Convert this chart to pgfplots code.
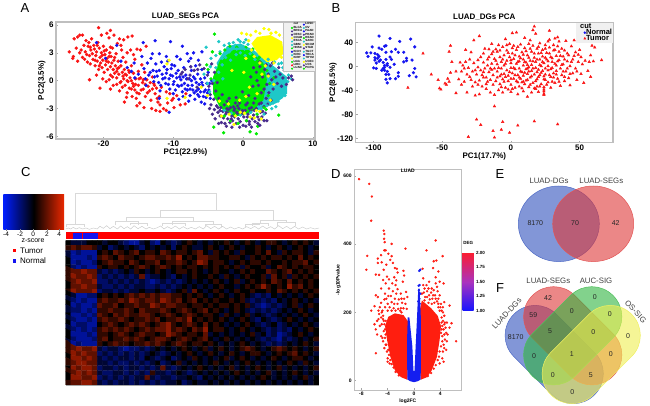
\documentclass[border=0pt]{standalone}
\usepackage{fontspec}
\setmainfont{Liberation Sans}
\usepackage{pgfplots}
\pgfplotsset{compat=1.18}
\definecolor{ared}{RGB}{250,20,20}
\definecolor{ablue}{RGB}{20,20,240}
\definecolor{apurple}{RGB}{72,44,140}
\definecolor{acyan}{RGB}{30,200,200}
\definecolor{agreen}{RGB}{0,235,0}
\definecolor{ayellow}{RGB}{255,255,0}
\definecolor{fr}{RGB}{222,55,55}
\definecolor{fb}{RGB}{47,80,188}
\definecolor{fg}{RGB}{47,180,63}
\definecolor{fy}{RGB}{238,238,80}
\newcommand{\fs}[1]{\fontsize{#1}{#1}\selectfont}
\pgfplotsset{
  pca/.style={scale only axis,anchor=north west,tick pos=left,
    axis line style={draw=gray!50,line width=1.1pt},
    tick style={draw=gray!70,line width=0.5pt},major tick length=2pt,
    /pgf/number format/assume math mode=true,
    tick label style={font=\bfseries\fs{8}},
    xticklabel style={yshift=1.5pt},yticklabel style={xshift=1pt},
    title style={font=\bfseries\fs{8},yshift=-7pt}},
  dot/.style={only marks,mark=*,mark size=#1,forget plot},
  dot/.default=1.5pt
}
\newcommand{\leg}[2]{\addlegendimage{only marks,mark=*,mark size=0.8pt,color=#1}\addlegendentry{#2}}
\begin{document}
\begin{tikzpicture}[x=1pt,y=-1pt]
\path[use as bounding box] (0,0) rectangle (650,406);
\begin{axis}[pca,at={(56pt,-22pt)},width=259pt,height=117pt,
  xmin=-26.8,xmax=10.3,ymin=-6.27,ymax=6.31,
  xtick={-20,-10,0,10},ytick={-6,-3,0,3,6},
  title={LUAD\_SEGs PCA},xlabel={PC1(22.9\%)},ylabel={PC2(3.5\%)},
  every axis x label/.style={at={(axis description cs:0.5,0)},anchor=north,yshift=-6.5pt,font=\bfseries\fs{8}},
  every axis y label/.style={at={(axis description cs:0,0.5)},anchor=south,rotate=90,yshift=7pt,font=\bfseries\fs{8}},
  legend columns=2,legend cell align=left,
  legend style={at={(1,1)},anchor=north east,draw=gray!50,fill=gray!12,
    font=\bfseries\fs{3},inner sep=0.4pt,row sep=-0.6pt,column sep=0.5pt,
    nodes={inner sep=0.2pt}}]
\addlegendimage{empty legend}\addlegendentry{cut}
\leg{ablue}{LUSC}
\leg{agreen}{BLCA}\leg{acyan}{OV}
\leg{apurple}{BRCA}\leg{ablue}{PAAD}
\leg{apurple}{CESC}\leg{apurple}{PRAD}
\leg{ayellow}{COAD}\leg{agreen}{READ}
\leg{acyan}{ESCA}\leg{acyan}{SARC}
\leg{acyan}{GBM}\leg{ayellow}{SKCM}
\leg{agreen}{HNSC}\leg{apurple}{STAD}
\leg{ablue}{KICH}\leg{acyan}{TGCT}
\leg{acyan}{KIRC}\leg{ablue}{THCA}
\leg{ayellow}{KIRP}\leg{acyan}{THYM}
\leg{agreen}{LGG}\leg{ayellow}{UCEC}
\leg{ared}{LIHC}\leg{apurple}{UCS}
\leg{agreen}{LUAD}\leg{agreen}{PCPG}
% red
\addplot[dot,color=ared] coordinates {(-24.9,3.1)(-24.4,2.4)(-24.3,2.6)(-24.2,4.5)(-23.9,3.5)(-23.7,2.1)(-23.7,4.7)(-23.4,4.9)(-23,4.9)(-23.2,3.3)(-23,2.5)(-22.8,3.8)(-22.6,3.1)(-22.5,4.3)(-22.3,2)(-22.2,3.7)(-22.1,4.1)(-22,2.7)(-21.9,1.8)(-21.8,3.3)(-21.7,4.5)(-21.6,2.9)(-21.5,2.3)(-21.4,3.8)(-21.3,3.4)(-21.2,1.6)(-21.1,2.7)(-21,3.1)(-20.9,2.1)(-20.8,4.1)(-20.7,5.7)(-20.7,1.2)(-20.6,3.5)(-20.5,2.5)(-20.4,1.9)(-20.3,4.9)(-20.3,3)(-20.2,1.4)(-20.1,2.2)(-20,3.7)(-19.9,0.9)(-19.8,2.8)(-19.7,1.7)(-19.6,3.3)(-19.5,5.1)(-19.5,2.4)(-19.4,1.2)(-19.3,2)(-19.2,4.6)(-19.1,3)(-19,1.5)(-19,0.6)(-18.9,2.6)(-18.8,1.9)(-18.7,3.5)(-18.6,1.2)(-18.5,4.9)(-18.5,2.2)(-18.4,0.8)(-18.3,1.6)(-18.2,2.9)(-18.1,0.3)(-18,4)(-18,1.3)(-17.9,2.1)(-17.8,0.7)(-17.7,4.5)(-17.6,-0.2)(-17.5,1.6)(-17.4,3.3)(-17.3,0.9)(-17.2,2.5)(-17.1,4.4)(-17.1,0.2)(-17,1.2)(-16.9,-0.5)(-16.8,2)(-16.7,0.6)(-16.6,3)(-16.5,4.7)(-16.5,-0.1)(-16.4,1.1)(-16.3,-0.8)(-16.2,0.3)(-16,1.6)(-15.9,4.8)(-15.8,-0.3)(-15.7,0.8)(-15.5,2.3)(-15.5,-1)(-15.4,0.2)(-15.3,-1.9)(-15.2,3.4)(-15,1)(-15,-0.5)(-14.9,-1.4)(-14.8,-2.4)(-14.7,0.3)(-14.5,1.7)(-14.4,-0.2)(-14.3,-0.9)(-14.1,0.9)(-14,-1.7)(-13.9,3.7)(-13.8,0.1)(-13.6,-0.6)(-13.4,-1.1)(-13.2,-2.1)(-13.1,-3)(-13,0.4)(-12.8,-0.3)(-12.6,-1.4)(-12.4,-0.8)(-12.2,-2.3)(-12,-1.7)(-11.7,-0.7)(-11.4,-3)(-11,-3.2)(-11,-1.2)(-10.5,-1.4)(-10.2,-2.1)(-9.9,-2.9)(-9.5,-1.6)(-9,-2.6)(-8.3,-2.5)(-8.2,-1.4)(-22,0.1)(-20.5,-0.8)(-19,-0.9)(-19.6,-0.1)(-18.6,-0.5)(-17.7,-1.1)(-17,-2.3)(-16.6,-1.3)(-15.9,-1.7)(-21,0.6)(-20.1,0.2)(-19.2,0.1)(-18.1,-0.4)(-17.3,-0.7)(-16,-0.9)(-22.4,2.8)(-21.9,3.6)(-21.2,2.2)(-20.9,3.8)(-20.6,1.6)(-20.2,2.7)(-19.9,3.2)(-19.6,2.1)(-19.2,2.6)(-19,3.6)(-18.7,0.4)(-18.4,2.5)(-18.1,1)(-17.8,1.4)(-17.5,-0.1)(-17.2,0.5)(-16.9,0.7)(-16.6,0)(-16.3,0.9)(-16,0)(-15.7,-0.6)(-15.4,-0.4)(-15.2,-1.3)(-14.9,0.2)(-14.6,-1)(-14.3,0.1)(-14,-0.4)(-13.7,-1.3)(-13.3,-0.2)(-13,-0.9)(-12.7,-0.5)(-12.3,-1.9)(-11.9,-2.6)(-10.8,-2.4)(-10,-1.9)(-23.4,3)(-22.7,2.3)(-19,5.4)(-17.5,3.8)(-16.1,3.3)(-15.7,2.8)(-14.7,3.3)(-16.7,-1.8)(-15.2,-2.7)(-14.2,-2.9)(-12.5,-3.2)(-11.9,-3.3)};
% blue
\addplot[dot,color=ablue] coordinates {(-21,4.1)(-18.1,3.8)(-14.3,4.1)(-12.6,4.3)(-10.4,4.2)(-8.7,3.7)(-7.1,3)(-5.9,3.1)(-12,2.9)(-19.7,2.4)(-17.5,2.1)(-16.6,1.4)(-15.6,1.9)(-15,0.7)(-14.5,2.6)(-14.2,1.3)(-13.7,1.9)(-13.5,0.6)(-13.2,2.4)(-12.9,1.1)(-12.8,-0.1)(-12.5,1.8)(-12.3,0.5)(-12,1.1)(-11.8,-0.5)(-11.7,2)(-11.5,0.2)(-11.3,1.5)(-11.1,-0.3)(-11,0.8)(-10.8,2.1)(-10.6,0.2)(-10.5,-0.9)(-10.3,1.3)(-10.1,0.5)(-10,-0.4)(-9.8,1.6)(-9.7,-1)(-9.5,0.3)(-9.3,1.1)(-9.2,-0.6)(-9,2.3)(-8.9,0.1)(-8.7,-1.2)(-8.5,1.4)(-8.4,-0.3)(-8.2,0.6)(-8,-1)(-7.8,2.1)(-7.7,0.2)(-7.6,-1.6)(-7.4,1.1)(-7.3,-0.5)(-7.1,0.4)(-7,-1.3)(-6.9,-2)(-6.8,1.6)(-6.7,-0.2)(-6.5,0.7)(-6.4,-0.9)(-6.3,-1.7)(-6.1,0.2)(-6,-2.3)(-5.9,1.2)(-5.8,-0.5)(-5.6,-1.2)(-5.5,0.3)(-5.3,-1.8)(-5.2,-0.3)(-5,0.9)(-4.9,-1)(-4.7,-1.9)(-4.5,0)(-11.9,-1.1)(-9.2,-2)(-8.6,-1.7)(-10.6,-3.4)(-15.5,0.3)(-14,0.2)(-16,1)(-13.9,-0.5)(-13.3,0.9)(-12.7,0.4)(-12.4,1)(-12.1,-0.2)(-11.6,0.7)(-11.2,0.3)(-10.9,1.2)(-10.7,-0.4)(-10.4,0.6)(-10.2,1.7)(-9.9,-0.1)(-9.6,0.8)(-9.4,-0.5)(-9.1,0.4)(-8.8,-0.5)(-8.6,0.4)(-8.3,-0.9)(-8.1,0.2)(-7.9,-0.5)(-7.6,-0.9)(-7.4,0)(-7.2,-1)(-6.9,0.2)(-6.7,-1.1)(-6.5,-1.5)(-6.3,-0.4)(-6.1,-1.2)(-5.9,-0.2)(-5.7,-1.7)(-5.4,-1)(-5.1,-1.3)(-4.8,-0.3)(-11,2.6)(-9.5,2.6)(-7.5,2.4)(-6.4,2.2)(-8,2.9)(-13,2.9)(-12,-1.9)(-7.8,-2.2)(-5.5,-2.5)(-10,-1.4)};
% purple under
\addplot[dot,color=apurple] coordinates {(-8.9,0.7)(-8.3,1.2)(-7.6,0.6)(-7,1.1)(-6.2,1.7)(-5.6,1.3)(-5.1,0.6)(-4.9,-0.6)(-4.7,-1.5)(-4.6,-2.6)(-4.5,1.8)(-4.4,-0.3)(-4.2,-2)(-4.1,0.9)(-4.1,-3.1)(-3.9,-1.1)(-3.8,-2.7)(-3.6,-3.4)(-3.5,-1.9)(-3.3,-3.8)(-3.2,-2.9)(-3.1,-4.5)(-2.9,-3.3)(-2.8,-4)(-2.7,-2.6)(-2.6,-4.6)(-2.5,-3.6)(-2.3,-3)(-2.2,-4.1)(-2,-3.5)(-1.9,-4.5)(-1.8,-2.9)(-1.6,-3.8)(-1.5,-4.3)(-1.3,-3.2)(-1.2,-3.9)(-1,-4.6)(-0.9,-3.4)(-0.7,-4.1)(-0.6,-3)(-0.4,-4.4)(-0.2,-3.6)(0,-4.8)(0.1,-3.9)(0.3,-3.2)(0.5,-4.3)(0.7,-3.6)(0.9,-4.7)(1.1,-3.3)(1.3,-4.1)(1.5,-3.7)(1.7,-4.4)(1.9,-3)(2.1,-3.9)(2.3,-4.2)(2.5,-3.4)(2.7,-3.9)(3,-2.8)(3.2,-3.5)(3.4,-4.3)(3.5,-2.5)(-0.8,-2.7)(-2.3,-2.2)(-1.1,-2.4)(0.4,-2.6)(-3,-1.5)(-3.7,-0.2)(-6.5,1.2)(-7.5,1.5)(-8.7,0.9)(-7.9,0.2)(-6.6,-0.7)};
% cyan
\addplot[fill=acyan,draw=none,forget plot] coordinates {(-3.8,1.9)(-2.3,3.7)(-0.4,4)(1.5,3.3)(6.3,0.4)(6.3,-1.4)(4.8,-2.4)(2,-3.2)(-1.4,-3.2)} --cycle;
\addplot[dot,color=acyan] coordinates {(-4.6,2.4)(-3.9,2.7)(-3.3,3.1)(-2.7,3.8)(-2.4,3)(-2,4)(-1.8,3.5)(-1.4,4.1)(-1.1,3.8)(-0.7,4.4)(-0.4,4.2)(0.1,4.1)(0.4,4.4)(0.7,3.9)(-5.3,3.6)(-3.5,4.2)(-3,2.4)(-5.6,0.7)(-5.1,-0.3)(-4.8,-1.2)(-4.7,1.5)(1.1,-3.4)(2.4,-3.1)(3.4,-2.7)(4.3,-2.4)(5,-2.2)(5.5,-1.8)(5.8,-1.1)(6.1,-0.6)(6.4,-0.1)(6.5,0.6)(6.2,1.1)(5.7,1.4)(5.1,1.8)(4.5,2)(6.9,0.2)(5.3,-1.6)(4.1,-3)(3,-3.6)(6,-1.6)(4.7,-2.8)(-1.7,-3.5)(-2.7,-3.2)(-0.4,-3.7)};
% green
\addplot[fill=agreen,draw=none,forget plot] coordinates {(-4.3,0.4)(-3.3,2.2)(-1.4,3.3)(0.8,3.3)(2.9,1.9)(3.4,0.1)(2.9,-2.1)(1,-3.5)(-1.4,-3.9)(-3.3,-2.9)(-4.3,-1.4)} --cycle;
\addplot[dot,color=agreen] coordinates {(-4.1,5)(-4.4,3.1)(-3.9,-1.8)(-4.6,0.2)(-5,1.2)(-3.3,2.9)(-2.6,3.3)(-1.9,3.7)(-0.9,3.6)(0.4,3.6)(1.4,3.4)(2.3,2.5)(3.4,1.1)(3.8,-0.3)(3.6,-1.6)(3,-2.9)(2,-3.6)(0.5,-4.3)(-0.7,-4.6)(-1.8,-4.3)(-2.7,-3.8)(-4.2,-5)(-2.8,-5.6)(1,-5.5)(1.9,-5.7)(2.1,-4.9)(5.1,-3.7)(3.3,-3.1)(-5.2,1.7)(4.4,0.3)};
% speckle on the core
\addplot[dot,color=acyan] coordinates {(-3,1.7)(-2.5,2.5)(-1.8,2.2)(-1,2.8)(-0.4,3)(0.3,2.7)(1,2.9)(1.7,2.3)(-3.5,0.9)(-2.9,0.2)(4.8,-1.2)(4.4,-1.7)(3.9,-2.5)(3.3,-2.3)(2.6,-3)(5.5,-0.9)(4.7,1.1)(5.5,1.9)(3.6,2.3)(-2,3.1)(-0.9,3.4)(0.2,3.4)(-3.9,1.4)(-4.2,0)(4.1,-1.1)(5.2,-0.1)};
% purple on top, right side
\addplot[dot,color=apurple] coordinates {(1.9,0.9)(2.4,1.5)(2.8,0.4)(3.1,1.2)(3.4,-0.4)(3.6,0.7)(3.9,1.6)(4.1,0.1)(4.3,-0.9)(4.5,1)(4.7,0.4)(4.9,-0.3)(5.1,1.4)(5.3,0.7)(5.5,-0.6)(5.7,0.3)(5.9,1.1)(6.2,-0.4)(6.5,0.3)(6.9,0.5)(7.1,0.1)(2.2,-0.5)(2.6,-1.3)(3,-0.9)(3.3,-1.9)(3.7,-1.3)(4,-2.1)(2,0)(1.5,1.4)(2.4,2)(3.3,1.7)(4.2,1.9)(-0.8,-3.5)(-1.7,-4.1)(-2.4,-3.4)(0.6,-3.9)(1.6,-3.2)(-3.6,-2.9)(0.9,-4.4)(2.8,-3.3)(2.1,-4.6)(-0.1,-3.2)(1.2,-2.9)(-1.4,-2.8)(2.3,-2.5)(-4.8,-3)(-4.4,-3.6)(-4,-4.1)(-3.5,-4.6)(-2.4,-4.9)(-1.6,-5)(-0.5,-5)(0.4,-4.9)(1.2,-5)(2.4,-4.8)(3,-4.3)(-1.2,-3)(-2.1,-3.1)(0,-3.3)(0.9,-3)(1.5,-2.4)(-3.3,-3.2)(-0.5,-2.4)(2.6,-2.4)(-1,-1.8)(-0.1,-1.2)(0.8,-1.6)(1.4,-0.6)(1.1,0.4)(0.6,-2.4)(1.7,-1.9)(-2,-1.9)};
% yellow
\addplot[fill=ayellow,draw=none,forget plot] coordinates {(1.2,4)(2,4.7)(3.9,4.9)(5.6,4.2)(5.8,2.9)(4.8,2.2)(3.4,2)(2.2,2.8)} --cycle;
\addplot[dot,color=ayellow] coordinates {(-0.2,5.1)(0.5,5)(1.1,4.9)(1.8,5.3)(2.4,5.1)(3,5.6)(3.7,5.5)(4,5.1)(4.7,5.2)(5.2,4.9)(5.9,4.6)(6,3.8)(6.1,3.1)(5.5,2.5)(4.4,1.9)(3.2,1.6)(2.4,1.9)(1.6,2.6)(1.2,3.3)(0.8,4.3)(2.7,3.1)(3.6,0.5)(0.4,-1.7)(-0.4,-3.4)(1,-3.9)(1.9,-3.2)(2.6,-4.1)(-1.1,-3.8)(-2.1,-2.5)(-3.4,-2.2)(-10.9,1.8)(-10.6,2.2)(-10.9,-1.9)(-8.3,-1.8)(-5.1,-1.6)(-6,-0.7)(0.4,2.4)(0.1,0.9)(2,-1.4)(-1.6,1.1)(-0.5,-2.1)(0.9,-0.7)(-2,-3.6)(-1.3,-4.7)(1.6,-4)(2.4,-3.3)(0.2,-3.5)(-3.1,-3.8)(3.9,-2.1)(4.4,-0.4)(2.7,0.7)};
\end{axis}
\begin{axis}[pca,at={(355.7pt,-22.7pt)},width=257.3pt,height=120pt,
  xmin=-113,xmax=74.3,ymin=-126.7,ymax=73.3,
  xtick={-100,-50,0,50},ytick={-120,-80,-40,0,40},
  title={LUAD\_DGs PCA},xlabel={PC1(17.7\%)},ylabel={PC2(8.5\%)},
  every axis x label/.style={at={(axis description cs:0.5,0)},anchor=north,yshift=-6.3pt,font=\bfseries\fs{8}},
  every axis y label/.style={at={(axis description cs:0,0.5)},anchor=south,rotate=90,yshift=15.5pt,font=\bfseries\fs{8}},
  legend cell align=left,
  legend style={at={(1,1)},anchor=north east,draw=none,fill=gray!12,
    font=\bfseries\fs{7.5},inner sep=0.5pt,row sep=-1.5pt,column sep=0pt,
    nodes={inner sep=0.3pt}}]
\addlegendimage{empty legend}\addlegendentry{\hspace*{-6pt}cut}
\addlegendimage{only marks,mark=*,mark size=1pt,color=ablue}\addlegendentry{Normal}
\addlegendimage{only marks,mark=triangle*,mark size=1.2pt,color=ared}\addlegendentry{Tumor}
\addplot[dot=1.4pt,color=ablue] coordinates {(-96,51)(-88,47)(-81,42)(-73,46)(-70,33)(-101,33)(-105,23)(-102,23)(-104,17)(-96,31)(-92,34)(-94,29)(-91,35)(-84,29)(-91,24)(-87,25)(-82,24)(-78,24)(-99,22)(-99,15)(-97,14)(-99,11)(-96,9)(-91,12)(-88,16)(-87,12)(-93,7)(-90,5)(-85,4)(-76,10)(-72,11)(-76,14)(-78,8)(-100,-2)(-98,-3)(-94,-6)(-92,-6)(-90,-8)(-89,-13)(-92,2)(-90,2)(-88,-1)(-82,-10)(-70,-3)(-82,-16)(-74,-15)(-69,-17)(-88,-20)(-91,-21)(-84,-20)(-90,-27)(-91,-13)(-97,20)(-95,11)(-92,-1)(-96,17)(-98,6)(-93,-3)(-71,-10)};
\addplot[dot=1.5pt,mark=triangle*,color=ared] coordinates {(-64,22)(-58,-13)(-53,-22)(-52,-36)(-51,-38)(-75,-35)(-48,-28)(-47,-30)(-45,-25)(-46,-20)(-44,-10)(-43,8)(-45,25)(-44,35)(-40,-44)(-40,-8)(-38,-21)(-37,7)(-36,-30)(-36,-8)(-35,2)(-34,-25)(-34,-3)(-33,8)(-32,-13)(-33,28)(-32,-43)(-31,-2)(-30,-17)(-29,24)(-29,-22)(-28,-33)(-28,-8)(-27,44)(-27,6)(-26,-26)(-26,-48)(-25,-13)(-24,11)(-24,-1)(-23,-23)(-23,-46)(-23,51)(-22,-6)(-21,-14)(-21,-33)(-20,22)(-20,7)(-19,-3)(-18,-18)(-18,-29)(-18,-37)(-17,12)(-17,2)(-16,-9)(-16,29)(-15,-22)(-15,-43)(-14,38)(-14,21)(-14,5)(-13,-14)(-13,-30)(-12,-3)(-12,13)(-12,-47)(-11,29)(-11,-24)(-10,25)(-10,-8)(-10,4)(-9,-39)(-9,36)(-8,-16)(-8,16)(-8,-29)(-7,-3)(-7,8)(-6,-21)(-6,33)(-6,-43)(-5,19)(-5,-12)(-5,2)(-4,-35)(-4,46)(-3,27)(-3,-6)(-3,10)(-2,-24)(-2,-38)(-2,-15)(-1,16)(-1,38)(0,-2)(0,6)(0,-30)(0,-42)(1,56)(1,22)(1,-11)(2,-20)(2,13)(2,35)(3,-4)(3,-35)(4,28)(4,57)(4,5)(5,-14)(5,-26)(5,-46)(6,17)(6,-3)(6,9)(7,-20)(7,37)(8,-9)(8,24)(8,-36)(9,2)(9,-15)(9,12)(10,48)(10,-29)(10,31)(11,-4)(11,-23)(11,7)(12,-50)(12,19)(12,-12)(13,38)(13,-34)(13,-1)(14,10)(14,-18)(15,25)(15,-7)(15,-43)(15,3)(16,35)(16,61)(16,-27)(17,15)(17,67)(17,-13)(18,-2)(18,55)(18,-37)(18,8)(19,-21)(19,30)(20,22)(20,-5)(20,-42)(21,12)(21,-14)(21,39)(22,1)(22,-29)(22,-10)(23,28)(23,17)(24,-21)(24,-34)(24,-38)(24,-41)(24,-45)(24,-47)(24,6)(25,-3)(25,36)(25,-13)(26,23)(26,12)(27,-26)(27,-6)(27,1)(28,60)(28,45)(28,32)(29,16)(29,-17)(29,-35)(30,8)(30,-2)(31,27)(31,-11)(31,36)(32,47)(32,-27)(33,18)(33,2)(33,-7)(34,-20)(34,34)(34,49)(35,11)(35,25)(36,-32)(36,-3)(37,-14)(38,17)(38,4)(39,-24)(39,27)(40,-8)(40,43)(41,9)(42,-19)(42,19)(43,1)(43,-31)(44,34)(45,12)(45,-11)(46,44)(47,-3)(47,24)(48,-22)(49,8)(50,28)(51,-12)(51,16)(52,4)(53,-27)(54,10)(56,-7)(57,8)(58,-17)(58,19)(59,35)(60,9)(61,32)(66,11)(25,-22)(12,-3)(19,-33)(6,-33)(-7,-13)(-14,-5)(-20,-18)(14,44)(9,-25)(-12,-66)(-25,-88)(-22,-97)(-13,-107)(-7,-105)(-12,-118)(-31,-117)(-6,-92)(-1,-110)(5,-98)(17,-91)(34,-96)(-30,12)(-26,-6)(-24,-30)(-22,16)(-20,-9)(-19,30)(-17,-25)(-16,16)(-15,-3)(-13,25)(-11,10)(-10,-18)(-9,-2)(-8,27)(-7,-34)(-6,12)(-5,-25)(-4,5)(-4,-17)(-3,36)(-2,23)(-1,-9)(0,11)(0,-20)(1,31)(1,-37)(2,-2)(3,19)(3,-14)(4,-24)(5,33)(5,8)(6,-18)(7,-8)(7,14)(8,-26)(9,20)(9,-41)(10,-10)(10,8)(11,26)(12,-22)(12,3)(13,15)(13,-8)(14,-30)(14,30)(15,-16)(16,9)(16,-3)(17,-36)(17,22)(18,-24)(19,12)(19,-9)(20,33)(20,-17)(21,3)(21,-33)(22,23)(23,-7)(23,8)(24,-16)(25,15)(25,30)(26,-30)(27,9)(27,42)(28,-14)(28,22)(29,-4)(30,-25)(30,14)(31,-18)(32,5)(32,28)(33,-13)(34,9)(35,-25)(35,42)(36,18)(37,3)(37,30)(38,-8)(39,-17)(39,12)(41,-3)(41,22)(43,-12)(44,8)(46,18)(48,-8)(49,20)};
\end{axis}
\begin{axis}[scale only axis,anchor=north west,at={(65.67pt,-191.67pt)},width=253.33pt,height=49pt,
  hide axis,xmin=197,xmax=957,ymin=95,ymax=242,y dir=reverse,unbounded coords=jump,clip=false]
\addplot[gray!30,line width=0.6pt] coordinates {(227,192)(227,100)(650,100)(650,150)(nan,nan)(480,172)(480,150)(820,150)(820,180)(nan,nan)(345,196)(345,185)(415,185)(415,196)(nan,nan)(380,185)(380,172)(580,172)(580,185)(nan,nan)(518,196)(518,185)(640,185)(640,196)(nan,nan)(757,197)(757,190)(805,190)(805,197)(nan,nan)(780,190)(780,180)(860,180)(860,187)(nan,nan)(833,197)(833,187)(885,187)(885,197)(nan,nan)(200,200)(200,192)(253,192)(253,200)(nan,nan)(390,196)(390,191)(442,191)(442,198)(nan,nan)(488,198)(488,189)(555,189)(555,197)(nan,nan)(615,198)(615,193)(665,193)(665,200)(nan,nan)(735,200)(735,194)(780,194)};
\addplot[gray!40,line width=0.5pt] coordinates {(197,207)(205,204)(212,207)(220,202)(228,207)(238,203)(248,207)(258,204)(268,208)(280,204)(292,207)(300,199)(310,205)(320,197)(330,206)(340,199)(352,207)(362,198)(372,206)(382,200)(392,207)(402,197)(414,206)(426,199)(438,207)(448,202)(460,207)(472,203)(482,198)(492,207)(502,200)(514,206)(526,198)(538,207)(550,200)(562,207)(574,202)(586,207)(598,200)(610,207)(620,197)(632,206)(644,199)(656,207)(668,199)(680,207)(692,201)(704,207)(716,202)(728,207)(740,200)(752,206)(764,199)(776,207)(788,198)(800,206)(812,200)(824,207)(836,197)(848,206)(860,199)(872,207)(884,199)(896,207)(908,201)(920,207)(932,203)(944,207)(957,204)};
\addplot[fill=red,draw=none] coordinates {(197,216)(957,216)(957,238)(197,238)} --cycle;
\addplot[fill=ablue,draw=none] coordinates {(219,219)(245,219)(245,237)(219,237)} --cycle;
\addplot[fill=ablue,draw=none] coordinates {(249,219)(295,219)(295,237)(249,237)} --cycle;
\addplot[gray!70,line width=0.8pt] coordinates {(197,240)(957,240)};
\end{axis}
\begin{axis}[scale only axis,anchor=north west,at={(65.67pt,-240.67pt)},width=253.33pt,height=144.3pt,
  hide axis,xmin=-0.5,xmax=47.5,ymin=-0.5,ymax=29.5,y dir=reverse,
  colormap={bkr}{rgb255=(0,30,255) rgb255=(0,0,0) rgb255=(235,40,0)},point meta min=-5,point meta max=5]
\addplot[matrix plot*,mesh/cols=48,point meta=explicit] table[header=false,row sep=\\,
  x expr={mod(\coordindex,48)},y expr={floor(\coordindex/48)},meta index=0] {
0\\-1\\-1\\-1\\0\\0\\0\\-1\\0\\0\\-1\\-2\\-3\\-3\\-1\\0\\-2\\-3\\0\\-1\\-2\\-1\\0\\1\\0\\-1\\0\\-1\\0\\0\\1\\0\\-1\\0\\1\\0\\-1\\0\\1\\1\\0\\-1\\0\\1\\0\\1\\0\\-1\\
1\\2\\1\\2\\2\\1\\-1\\0\\-2\\-1\\0\\-1\\0\\-1\\-2\\0\\-1\\0\\-1\\0\\-2\\0\\1\\0\\-1\\-1\\0\\1\\0\\-1\\0\\1\\0\\-1\\0\\0\\1\\0\\-1\\0\\1\\0\\-1\\0\\1\\0\\-1\\0\\
-1\\-3\\-2\\-3\\-3\\-3\\0\\1\\0\\2\\1\\0\\1\\2\\0\\1\\1\\0\\2\\1\\0\\1\\1\\0\\1\\2\\0\\-1\\1\\0\\1\\0\\-1\\1\\0\\0\\1\\0\\2\\0\\-1\\1\\0\\1\\1\\0\\-1\\1\\
-1\\-3\\-3\\-3\\-2\\-3\\1\\2\\1\\0\\2\\1\\1\\0\\1\\2\\2\\1\\1\\2\\1\\3\\0\\1\\0\\2\\2\\1\\1\\0\\0\\1\\1\\0\\-1\\1\\0\\1\\0\\1\\1\\0\\1\\0\\2\\0\\1\\0\\
0\\-3\\-2\\-3\\-3\\-2\\0\\1\\2\\1\\1\\0\\2\\1\\0\\1\\1\\2\\0\\1\\1\\2\\1\\0\\1\\3\\2\\0\\1\\1\\0\\-1\\0\\1\\0\\1\\1\\0\\1\\0\\0\\1\\0\\1\\1\\2\\0\\1\\
0\\-2\\-3\\-2\\-3\\-3\\1\\0\\1\\1\\0\\1\\0\\1\\2\\1\\0\\1\\2\\1\\0\\1\\0\\1\\1\\0\\1\\0\\1\\0\\1\\0\\1\\-1\\1\\0\\0\\1\\-1\\0\\2\\1\\0\\1\\0\\1\\1\\0\\
1\\2\\2\\3\\2\\2\\-1\\-2\\-1\\-2\\-1\\0\\-1\\1\\0\\-1\\0\\1\\0\\-1\\0\\1\\1\\0\\1\\0\\-1\\0\\1\\0\\0\\-1\\0\\1\\0\\1\\0\\0\\2\\1\\0\\1\\2\\0\\1\\0\\1\\0\\
1\\3\\2\\2\\3\\2\\-2\\-1\\-2\\-1\\-2\\-1\\-2\\-1\\2\\-2\\-1\\-1\\0\\-1\\-2\\0\\-1\\0\\1\\0\\0\\1\\0\\-1\\1\\0\\-1\\0\\1\\0\\0\\1\\-1\\2\\0\\1\\-1\\1\\0\\1\\0\\1\\
1\\2\\3\\2\\2\\3\\-2\\-2\\-1\\-2\\-1\\-2\\-1\\-2\\-1\\-2\\-3\\-2\\-1\\-2\\-1\\-2\\-1\\0\\-1\\0\\-1\\0\\1\\0\\-1\\0\\1\\-1\\0\\1\\0\\1\\0\\2\\1\\0\\2\\0\\1\\0\\1\\0\\
0\\2\\2\\3\\2\\2\\-1\\-2\\-2\\-1\\-2\\-1\\-2\\-1\\-1\\-2\\-2\\-1\\-2\\-1\\-2\\-1\\0\\-1\\0\\-1\\0\\-1\\0\\1\\0\\0\\-1\\0\\1\\0\\1\\3\\1\\0\\1\\0\\3\\1\\2\\0\\1\\0\\
1\\3\\2\\2\\2\\3\\-2\\-1\\-1\\-2\\-1\\-2\\-1\\-1\\0\\-1\\-1\\0\\-1\\-2\\-1\\0\\1\\-1\\2\\0\\-1\\0\\1\\0\\-1\\0\\1\\0\\0\\1\\0\\0\\1\\0\\2\\1\\0\\1\\0\\1\\0\\1\\
0\\-1\\-3\\-3\\-2\\-2\\0\\1\\0\\1\\0\\1\\2\\1\\2\\1\\2\\1\\2\\2\\1\\1\\0\\1\\0\\1\\0\\-1\\0\\1\\0\\-1\\0\\1\\0\\-1\\-2\\-1\\-2\\0\\-1\\0\\-1\\0\\-1\\0\\1\\0\\
-1\\-2\\-3\\-2\\-3\\-3\\1\\2\\1\\1\\2\\1\\3\\2\\1\\2\\2\\1\\3\\2\\1\\2\\0\\1\\2\\0\\1\\0\\1\\0\\0\\1\\0\\1\\-1\\-2\\-1\\-2\\-1\\-2\\0\\-1\\0\\1\\0\\-1\\0\\-1\\
0\\-3\\-2\\-3\\-3\\-2\\2\\1\\1\\2\\0\\1\\1\\2\\1\\1\\3\\2\\1\\2\\2\\1\\1\\0\\1\\1\\0\\1\\0\\1\\1\\0\\1\\0\\1\\-1\\-2\\-3\\-2\\-1\\-2\\-1\\0\\1\\-1\\0\\1\\0\\
-1\\-2\\-2\\-3\\-2\\-3\\1\\1\\2\\1\\1\\2\\1\\0\\2\\1\\1\\1\\2\\1\\0\\1\\2\\1\\0\\1\\2\\0\\1\\0\\-1\\0\\1\\0\\-1\\-2\\-1\\-2\\-1\\-2\\-1\\0\\-1\\0\\1\\0\\-1\\0\\
0\\-3\\-3\\-2\\-3\\-2\\2\\1\\0\\2\\1\\2\\1\\1\\2\\2\\1\\0\\1\\2\\1\\0\\1\\2\\1\\0\\1\\1\\0\\-1\\1\\0\\-1\\0\\1\\-1\\0\\-1\\-2\\-1\\0\\-1\\0\\-1\\0\\1\\0\\-1\\
-1\\-2\\-3\\-3\\-2\\-3\\1\\2\\1\\1\\2\\1\\0\\1\\1\\2\\1\\2\\0\\1\\1\\2\\1\\3\\0\\1\\0\\1\\0\\1\\0\\-1\\0\\1\\0\\-1\\-2\\0\\-1\\-2\\-1\\0\\1\\0\\-1\\0\\-1\\0\\
0\\-3\\-2\\-2\\-3\\-3\\0\\1\\2\\1\\0\\1\\2\\1\\2\\1\\0\\1\\2\\3\\1\\0\\1\\2\\1\\0\\2\\0\\1\\0\\-1\\0\\-1\\0\\1\\0\\-1\\-2\\-1\\0\\-2\\-1\\0\\-1\\0\\1\\0\\-1\\
-1\\-2\\-3\\-2\\-3\\-2\\1\\2\\1\\2\\1\\2\\1\\0\\1\\2\\1\\2\\2\\3\\1\\2\\1\\0\\2\\1\\3\\0\\1\\1\\0\\-1\\0\\1\\0\\-1\\0\\-1\\-2\\-1\\-2\\-1\\-2\\0\\-1\\0\\1\\0\\
0\\-3\\-3\\-3\\-2\\-3\\1\\1\\0\\1\\2\\1\\0\\1\\2\\1\\1\\0\\1\\3\\2\\1\\0\\1\\1\\0\\2\\-1\\0\\-1\\0\\-1\\0\\-1\\0\\1\\-1\\0\\-2\\-1\\-3\\-2\\-1\\0\\1\\0\\-1\\0\\
0\\-2\\-3\\-3\\-3\\-2\\1\\2\\0\\1\\1\\2\\1\\2\\1\\0\\1\\2\\2\\1\\0\\1\\2\\1\\0\\1\\2\\0\\-1\\0\\1\\0\\-1\\0\\-1\\0\\-1\\-2\\-1\\-2\\-3\\-1\\-2\\-1\\0\\-1\\0\\1\\
-1\\-3\\-2\\-3\\-3\\-3\\1\\0\\1\\2\\1\\1\\0\\1\\1\\2\\1\\2\\1\\0\\1\\2\\1\\0\\1\\1\\0\\1\\0\\-1\\0\\-1\\0\\1\\0\\-1\\0\\-1\\-2\\-1\\-2\\-1\\0\\-1\\0\\1\\0\\-1\\
1\\2\\3\\2\\2\\3\\-1\\-2\\-1\\-1\\-2\\-3\\-2\\-2\\-1\\-2\\-1\\0\\-1\\0\\-1\\0\\1\\0\\-1\\0\\1\\-1\\0\\1\\0\\-1\\0\\1\\2\\1\\0\\-1\\0\\1\\2\\1\\0\\1\\0\\-1\\0\\1\\
1\\3\\2\\3\\2\\2\\-2\\-1\\-2\\-1\\-2\\-1\\-2\\-1\\-2\\-1\\0\\-1\\-2\\-1\\0\\-1\\0\\1\\0\\-1\\0\\1\\0\\-1\\0\\1\\0\\-1\\0\\1\\1\\0\\-1\\0\\1\\0\\1\\2\\0\\1\\0\\-1\\
0\\3\\3\\2\\3\\2\\-1\\-2\\-1\\-2\\-1\\-1\\-2\\-1\\-2\\0\\-1\\-2\\-1\\0\\-2\\-1\\0\\-1\\1\\0\\-1\\0\\-1\\0\\1\\-1\\0\\1\\0\\-1\\0\\-1\\0\\1\\0\\-1\\0\\1\\1\\0\\-1\\0\\
1\\2\\3\\3\\2\\2\\-1\\-1\\-2\\-1\\-2\\-2\\-1\\-2\\-1\\-2\\-1\\0\\-2\\-1\\0\\1\\-1\\0\\-1\\0\\-1\\0\\1\\0\\-1\\0\\-1\\0\\1\\0\\-1\\0\\-1\\0\\-1\\0\\1\\0\\-1\\1\\0\\-1\\
0\\3\\2\\3\\3\\2\\-2\\-1\\-1\\-2\\-1\\-2\\-1\\-1\\-2\\-1\\-2\\-1\\2\\-1\\-2\\-1\\0\\-1\\0\\1\\0\\-1\\0\\-1\\0\\1\\-1\\0\\-1\\0\\1\\0\\-1\\0\\1\\-1\\0\\-1\\0\\-1\\0\\1\\
1\\2\\3\\2\\3\\2\\-1\\-2\\-2\\-1\\-1\\-2\\-1\\-2\\-1\\-2\\1\\-1\\-1\\-2\\-1\\0\\-1\\-2\\-1\\0\\-1\\0\\-1\\0\\-1\\0\\1\\0\\-1\\0\\-1\\0\\1\\-1\\0\\-1\\0\\1\\0\\-1\\0\\-1\\
0\\3\\3\\2\\2\\3\\-2\\-1\\-2\\-1\\-2\\-1\\-2\\-1\\-1\\2\\-1\\-2\\-1\\-1\\-2\\-1\\-1\\0\\-1\\-2\\0\\-1\\0\\-1\\0\\-1\\0\\-1\\0\\-1\\0\\1\\0\\-1\\0\\-1\\0\\-1\\0\\1\\-1\\0\\
1\\2\\2\\3\\3\\2\\-1\\-2\\-1\\-2\\-1\\-1\\-2\\-1\\-2\\-1\\-2\\-1\\-2\\-1\\-1\\0\\-2\\-1\\0\\-1\\-1\\0\\-1\\0\\-1\\0\\-1\\0\\-1\\0\\-1\\0\\-1\\0\\-1\\0\\-1\\0\\-1\\0\\-1\\0\\
};
\end{axis}
\draw[gray!70,line width=0.8pt] (65.67,385) -- (319,385);
% colour key C
\shade[left color={rgb,255:red,0;green,30;blue,255},right color={rgb,255:red,235;green,40;blue,0},middle color=black] (3.3,194.3) rectangle (64,229.3);
\foreach \x/\t in {6/-4,20/-2,33.3/0,47/2,59.3/4}{
  \draw[gray,line width=0.3pt] (\x,229.3) -- (\x,231);
  \node[font=\fs{6.5},inner sep=0] at (\x,234.5) {\t};}
\node[font=\fs{7},inner sep=0] at (33,240.3) {z-score};
\fill[red] (13,248.8) rectangle (16.2,252);
\fill[ablue] (13,259.3) rectangle (16.2,262.5);
\node[font=\fs{8},inner sep=0,anchor=west] at (20,250.7) {Tumor};
\node[font=\fs{8},inner sep=0,anchor=west] at (20,261) {Normal};
\begin{axis}[pca,at={(354.3pt,-169.3pt)},width=107pt,height=220.7pt,
  xmin=-9.07,xmax=7.19,ymin=-28,ymax=620,
  axis line style={draw=gray!50,line width=0.9pt},
  xtick={-8,-4,0,4},ytick={0,200,400,600},
  tick label style={font=\bfseries\fs{5}},
  title={LUAD},title style={font=\bfseries\fs{5},yshift=-6pt},
  xlabel={log2FC},ylabel={-log10Pvalue},
  every axis x label/.style={at={(axis description cs:0.5,0)},anchor=north,yshift=-5.5pt,font=\bfseries\fs{5}},
  every axis y label/.style={at={(axis description cs:0,0.5)},anchor=south,rotate=90,yshift=10pt,font=\bfseries\fs{5}},
  colormap={deg}{rgb255=(20,20,255) rgb255=(170,50,190) rgb255=(250,30,50)},
  point meta min=1,point meta max=2,colorbar,
  colorbar style={at={(1.013,0.621)},anchor=north west,width=11pt,height=58pt,
    axis line style={draw=none},
    ytick={1,1.25,1.5,1.75,2},major tick length=0pt,yticklabel pos=right,
    yticklabel style={/pgf/number format/assume math mode=true,/pgf/number format/fixed,/pgf/number format/fixed zerofill,/pgf/number format/precision=2,font=\bfseries\fs{4.5},xshift=-1pt},
    title={DEG},title style={font=\bfseries\fs{4.5},at={(0.5,1)},anchor=south,yshift=-1.5pt}}]
\addplot[dot=1pt,color={rgb,255:red,255;green,30;blue,20}] coordinates {(-8.35,591)(-6.8,577)(-6.4,540)(-6.5,469)(-4.6,440)(-4.5,430)(-4.55,416)(-4.45,406)(-3.4,401)(3.3,411)(-1.3,387)(1.9,382)(4.35,365)(-7.1,366)(-7.24,325)(-4.5,382)(-4.3,382)(-5,368)(-3.9,372)(-5.5,358)(-5.5,345)(-5.3,310)(-5.8,311)(-4.9,347)(-3.6,354)(-3.2,345)(-3.4,365)(-4.6,325)(-4.2,340)(-2.9,330)(-2.6,328)(-4.1,305)(-3.8,297)(-2.5,317)(-2.7,294)(-3,303)(-1.6,322)(-1.5,308)(-1.7,290)(-2.8,280)(-3.3,285)(-3.8,270)(-4.3,285)(-4.7,295)(-5,270)(-4.4,255)(-3.9,248)(-3.2,262)(-2.5,268)(-2,255)(-1.9,240)(-2.9,240)(-1.2,260)(-1,245)(-1.3,225)(-3.4,230)(-4,225)(-4.5,238)(-5,228)(-5.5,245)(-5.8,250)(-6,218)(-6.5,205)(-5.4,205)(-5.6,175)(-5.3,195)(-5,185)(-4.9,165)(-5.8,150)(-5.6,135)(-5,130)(-4.6,145)(-4.7,115)(-4.3,105)(-4.1,85)(-4,65)(-5.8,80)(-4,55)(-3.7,50)(-4.3,135)(-6,165)(-5.2,160)(-4.4,215)(-2,212)(-2.5,225)(-1.6,212)(-3.1,212)(1.3,328)(1.4,300)(1.9,280)(2.3,290)(1.6,270)(1.2,255)(2.7,270)(3,350)(3.4,352)(2.9,330)(3.7,320)(3.3,303)(3.3,285)(3.9,290)(4.5,285)(3.6,262)(3.2,250)(3.9,250)(2.8,240)(2.3,250)(1.7,245)(4.1,225)(4.6,230)(5.4,220)(4.4,200)(4.2,185)(3.7,215)(5,170)(5.7,168)(6.4,115)(4.8,155)(5.4,155)(4.6,135)(5,115)(4.5,105)(4.9,90)(4.4,85)(4.3,65)(4.5,55)(3.9,50)(5.1,135)(4.2,150)(4.3,130)(3.1,228)(2.2,228)(4.2,170)(3.9,205)(-4.8,205)(-4.2,240)(-3.7,215)(-3.5,248)(-3,225)(-2.7,255)(-2.3,238)(-2.1,205)(-1.8,228)(-1.5,240)(-1.1,210)(-4,205)(-3.4,205)(-2.8,205)(-2.4,210)(-1.9,200)(-4.7,190)(-4.6,175)(-4.5,165)(-4.4,150)(-4.3,175)(-4.9,200)(-5.2,215)(-4.8,125)(-4.4,125)(-4.2,105)(-3.9,90)(-3.8,75)(-3.6,60)(-3.4,48)(-3.1,38)(-2.8,25)(-2.3,15)(-4.5,95)(-4.7,180)(-5.4,180)(1.6,235)(2,245)(2.4,238)(2.7,225)(3.3,240)(3.5,232)(3.7,225)(4,215)(4.4,215)(4.2,205)(4.6,190)(4.4,175)(4.7,170)(4.3,160)(4.5,150)(4.1,140)(4.3,115)(4.1,100)(3.9,85)(3.8,70)(3.6,60)(3.3,45)(3,35)(2.6,22)(2.1,13)(1.5,258)(2,262)(2.6,258)(1.4,280)(2.2,270)(3,265)(3.5,275)(3.7,240)(2.9,250)(4.6,165)(4.9,140)(4.7,120)(4.6,95)};
\addplot[fill={rgb,255:red,255;green,30;blue,15},draw=none,forget plot] coordinates {(-1,2)(-2,10)(-2.9,30)(-3.6,70)(-4.1,120)(-4.4,160)(-3.9,187)(-2.9,197)(-1.6,192)(-0.7,168)} --cycle;
\addplot[fill={rgb,255:red,255;green,30;blue,15},draw=none,forget plot] coordinates {(1,2)(2,10)(2.7,30)(3.5,70)(3.9,120)(4.1,160)(3.6,190)(2.6,212)(1.2,235)(0.8,200)} --cycle;
\addplot[fill={rgb,255:red,20;green,30;blue,240},draw=none,forget plot] coordinates {(-1,3)(-1.05,60)(-1.05,120)(-0.95,185)(-0.7,185)(-0.25,100)(-0.08,28)(0.08,28)(0.25,100)(0.45,180)(0.65,270)(0.85,270)(1.05,180)(1.05,90)(1.02,3)(0.6,-2)(0,-5)(-0.6,-2)} --cycle;
\addplot[dot=1pt,color={rgb,255:red,20;green,30;blue,240}] coordinates {(0.95,325)(0.8,322)(0.85,280)(0.7,278)(0.75,265)(0.95,255)(0.8,240)(0.65,232)(0.85,225)};
\end{axis}
% venn E
\begin{scope}[line width=0.5pt]
\draw[draw=fb!85,fill=fb,fill opacity=0.6] (558.8,223.8) ellipse (40.5 and 37.8);
\draw[draw=fr!85,fill=fr,fill opacity=0.6] (593.2,223.8) ellipse (40.5 and 37.8);
\end{scope}
\node[font=\fs{7.8},inner sep=0,text=black!75] at (549,180.7) {LUAD-DGs};
\node[font=\fs{7.8},inner sep=0,text=black!75] at (601.3,180.7) {LUAD-SEGs};
\foreach \x/\y/\t in {535.3/223.3/8170,575/222.7/70,615.7/223.3/42}
  \node[font=\fs{7},inner sep=0,text=black!85] at (\x,\y) {\t};
% venn F
\begin{scope}[line width=0.5pt]
\draw[draw=fb!85,fill=fb,fill opacity=0.6,rounded corners=29.9pt,shift={(554.2,354.5)},rotate=-45] (-57,-30) rectangle (57,30);
\draw[draw=fr!85,fill=fr,fill opacity=0.6,rounded corners=29.9pt,shift={(572.7,335.8)},rotate=-45] (-57,-30) rectangle (57,30);
\draw[draw=fg!85,fill=fg,fill opacity=0.6,rounded corners=29.9pt,shift={(572.7,335.8)},rotate=45] (-57,-30) rectangle (57,30);
\draw[draw=fy!90,fill=fy,fill opacity=0.6,rounded corners=29.9pt,shift={(591.2,354.5)},rotate=45] (-57,-30) rectangle (57,30);
\end{scope}
\node[font=\fs{7.8},inner sep=0,text=black!75] at (548.3,281.3) {LUAD-SEGs};
\node[font=\fs{7.8},inner sep=0,text=black!75] at (596,281.3) {AUC-SIG};
\node[font=\fs{7.8},inner sep=0,text=black!75,rotate=47] at (506.7,313.3) {LUAD-DGs};
\node[font=\fs{7.8},inner sep=0,text=black!75,rotate=-47] at (635.7,311.7) {OS-SIG};
\foreach \x/\y/\t in {548/297.7/42,594.7/297.3/0,533.3/315.3/59,571.7/311/0,609.7/314.3/0,515.7/336.7/8170,550/331/5,593.3/331.7/0,628/336/0,534/355.7/0,571.7/354/1,610.7/354/0,552.7/375/0,590.7/375/5,572.3/391.7/0}
  \node[font=\fs{7},inner sep=0,text=black!85] at (\x,\y) {\t};
% panel letters
\foreach \x/\y/\t in {25/8/A,336/8/B,25.7/172.3/C,335.7/174.3/D,500/174/E,500/288/F}
  \node[font=\fs{13},inner sep=0] at (\x,\y) {\t};
\end{tikzpicture}
\end{document}
